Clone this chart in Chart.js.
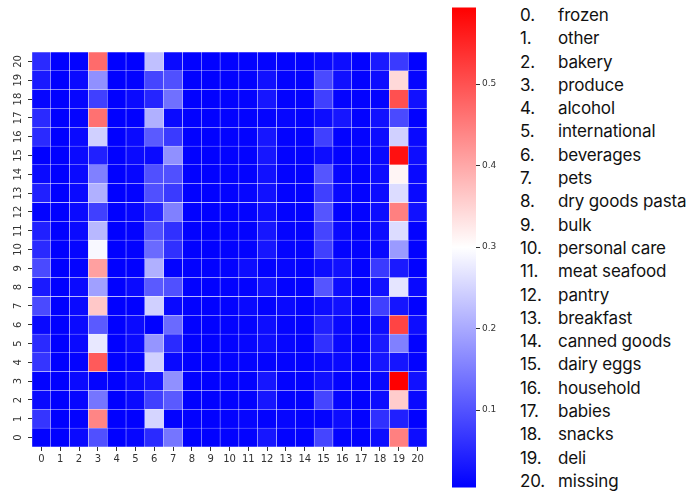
<!DOCTYPE html>
<html><head><meta charset="utf-8">
<script src="https://cdn.jsdelivr.net/npm/chart.js@4"></script>
<style>
html,body{margin:0;padding:0;background:#fff;width:691px;height:495px;overflow:hidden;}
#heatWrap{position:absolute;left:0;top:0;width:440px;height:495px;}
#barWrap{position:absolute;left:440px;top:0;width:75px;height:495px;}
#legend{position:absolute;left:520px;top:4px;font-family:Inter, 'Noto Sans', sans-serif;font-size:17px;letter-spacing:-0.15px;color:#111;}
#legend div{height:23.3px;line-height:23.3px;white-space:nowrap;}
#legend span.n{display:inline-block;width:38px;}
</style></head>
<body>
<div id="heatWrap"><canvas id="heat" width="440" height="495"></canvas></div>
<div id="barWrap"><canvas id="cbar" width="75" height="495"></canvas></div>
<div id="legend"></div>
<script>
const colLabels = ['0','1','2','3','4','5','6','7','8','9','10','11','12','13','14','15','16','17','18','19','20'];
const rowLabels = ['0','1','2','3','4','5','6','7','8','9','10','11','12','13','14','15','16','17','18','19','20'];
const categories = ['frozen','other','bakery','produce','alcohol','international','beverages','pets','dry goods pasta','bulk','personal care','meat seafood','pantry','breakfast','canned goods','dairy eggs','household','babies','snacks','deli','missing'];
const colorTicks = [0.1, 0.2, 0.3, 0.4, 0.5];
const vmin = 0.005, vmax = 0.594;
// matrix[row][col], row 0 at bottom
const matrix = [
 [.008,.006,.017,.097,.006,.012,.053,.140,.007,.007,.008,.008,.030,.008,.008,.085,.010,.008,.020,.446,.020],
 [.066,.006,.008,.440,.006,.006,.251,.008,.007,.007,.008,.012,.008,.012,.008,.010,.020,.008,.060,.042,.007],
 [.017,.006,.012,.140,.006,.017,.079,.109,.007,.007,.008,.008,.030,.008,.008,.085,.012,.008,.020,.358,.015],
 [.008,.006,.017,.010,.006,.017,.029,.171,.007,.007,.008,.008,.030,.008,.008,.025,.010,.008,.015,.594,.025],
 [.066,.006,.010,.490,.006,.008,.245,.015,.007,.007,.008,.010,.010,.010,.008,.015,.017,.008,.030,.029,.008],
 [.053,.006,.017,.273,.006,.017,.177,.053,.007,.007,.008,.012,.020,.012,.008,.060,.015,.008,.035,.153,.008],
 [.015,.006,.017,.109,.006,.017,.006,.127,.007,.007,.008,.010,.020,.010,.008,.042,.015,.008,.020,.515,.020],
 [.090,.006,.017,.363,.006,.006,.245,.015,.007,.007,.008,.015,.008,.015,.008,.020,.025,.008,.079,.029,.007],
 [.035,.006,.017,.190,.006,.017,.109,.097,.007,.007,.008,.008,.025,.008,.008,.103,.020,.008,.025,.269,.015],
 [.090,.006,.010,.409,.006,.006,.208,.008,.007,.007,.008,.020,.008,.012,.008,.020,.025,.008,.072,.035,.007],
 [.053,.006,.012,.291,.006,.008,.127,.060,.007,.007,.008,.008,.030,.010,.008,.079,.010,.008,.015,.183,.008],
 [.042,.006,.017,.218,.006,.008,.097,.060,.007,.007,.008,.008,.030,.010,.008,.085,.015,.008,.020,.259,.008],
 [.008,.006,.017,.079,.006,.012,.048,.153,.007,.007,.008,.008,.020,.008,.008,.103,.008,.008,.020,.446,.025],
 [.042,.006,.017,.208,.006,.008,.097,.072,.007,.007,.008,.012,.025,.008,.008,.079,.015,.008,.020,.259,.015],
 [.017,.006,.017,.153,.006,.012,.097,.097,.007,.007,.008,.008,.025,.008,.008,.103,.012,.008,.020,.311,.015],
 [.006,.006,.017,.042,.006,.017,.017,.171,.007,.007,.008,.008,.030,.008,.008,.020,.008,.010,.015,.576,.020],
 [.053,.006,.017,.245,.006,.017,.109,.072,.007,.007,.008,.008,.030,.008,.008,.079,.008,.010,.020,.245,.015],
 [.053,.006,.010,.464,.006,.006,.208,.017,.007,.007,.008,.008,.010,.012,.008,.020,.030,.008,.025,.090,.007],
 [.012,.006,.012,.079,.006,.017,.048,.134,.007,.007,.008,.010,.030,.008,.008,.079,.010,.008,.010,.502,.025],
 [.035,.006,.017,.171,.006,.008,.085,.097,.007,.007,.008,.008,.025,.010,.008,.090,.025,.008,.020,.343,.012],
 [.053,.006,.008,.471,.006,.006,.227,.017,.007,.007,.008,.008,.010,.009,.008,.017,.020,.008,.035,.072,.007]
];

function bwr(v){
  let t = (v - vmin) / (vmax - vmin);
  t = Math.max(0, Math.min(1, t));
  if (t < 0.5) { const c = Math.round(510 * t); return `rgb(${c},${c},255)`; }
  const c = Math.round(510 * (1 - t)); return `rgb(255,${c},${c})`;
}

const tickFont = {family: "'DejaVu Sans', sans-serif", size: 10};

new Chart(document.getElementById('heat'), {
  type: 'bar',
  data: {
    labels: colLabels,
    datasets: rowLabels.map((r, i) => ({
      label: r,
      data: colLabels.map(() => 1),
      backgroundColor: matrix[i].map(bwr),
      borderColor: 'rgba(255,255,255,0.6)',
      borderWidth: 0.5,
      borderSkipped: false,
      barPercentage: 1,
      categoryPercentage: 1
    }))
  },
  options: {
    responsive: false,
    devicePixelRatio: 1,
    animation: false,
    events: [],
    layout: {padding: {top: 52, bottom: 18, left: 0, right: 13}},
    plugins: {legend: {display: false}, tooltip: {enabled: false}},
    scales: {
      x: {
        stacked: true,
        offset: true,
        grid: {display: true, offset: false, drawOnChartArea: false, drawTicks: true, tickLength: 4, color: '#333'},
        border: {display: false},
        ticks: {font: tickFont, color: '#333', padding: 2, minRotation: 0, maxRotation: 0, autoSkip: false},
        afterFit: s => { s.height = 30; }
      },
      y: {
        type: 'linear',
        stacked: true,
        min: 0, max: rowLabels.length,
        afterBuildTicks: s => { s.ticks = rowLabels.map((l, i) => ({value: i + 0.5})); },
        grid: {display: true, drawOnChartArea: false, drawTicks: true, tickLength: 4, color: '#333'},
        border: {display: false},
        ticks: {font: tickFont, color: '#333', padding: 3, minRotation: 90, maxRotation: 90, crossAlign: 'center', autoSkip: false,
                callback: (v, i) => rowLabels[i]},
        afterFit: s => { s.width = 32; }
      }
    }
  }
});

new Chart(document.getElementById('cbar'), {
  type: 'bar',
  data: {
    labels: ['scale'],
    datasets: [{
      data: [[vmin, vmax]],
      backgroundColor: (c) => {
        const a = c.chart.chartArea;
        if (!a) return 'rgb(0,0,255)';
        const g = c.chart.ctx.createLinearGradient(0, a.bottom, 0, a.top);
        g.addColorStop(0, 'rgb(0,0,255)');
        g.addColorStop(0.5, 'rgb(255,255,255)');
        g.addColorStop(1, 'rgb(255,0,0)');
        return g;
      },
      borderWidth: 0,
      barPercentage: 1,
      categoryPercentage: 1
    }]
  },
  options: {
    responsive: false,
    devicePixelRatio: 1,
    animation: false,
    events: [],
    layout: {padding: {top: 3, bottom: 2, left: 12, right: 0}},
    plugins: {legend: {display: false}, tooltip: {enabled: false}},
    scales: {
      x: {display: false},
      y: {
        position: 'right',
        min: vmin, max: vmax,
        afterBuildTicks: s => { s.ticks = colorTicks.map(v => ({value: v})); },
        grid: {display: true, drawOnChartArea: false, drawTicks: true, tickLength: 4, color: '#333'},
        border: {display: false},
        ticks: {font: {family: "'DejaVu Sans', sans-serif", size: 9}, color: '#333', padding: 2, callback: v => v.toFixed(1)},
        afterFit: s => { s.width = 39; }
      }
    }
  }
});

const lg = document.getElementById('legend');
categories.forEach((name, i) => {
  const d = document.createElement('div');
  const n = document.createElement('span'); n.className = 'n'; n.textContent = i + '.';
  const t = document.createElement('span'); t.textContent = name;
  d.appendChild(n); d.appendChild(t); lg.appendChild(d);
});
</script>
</body></html>
